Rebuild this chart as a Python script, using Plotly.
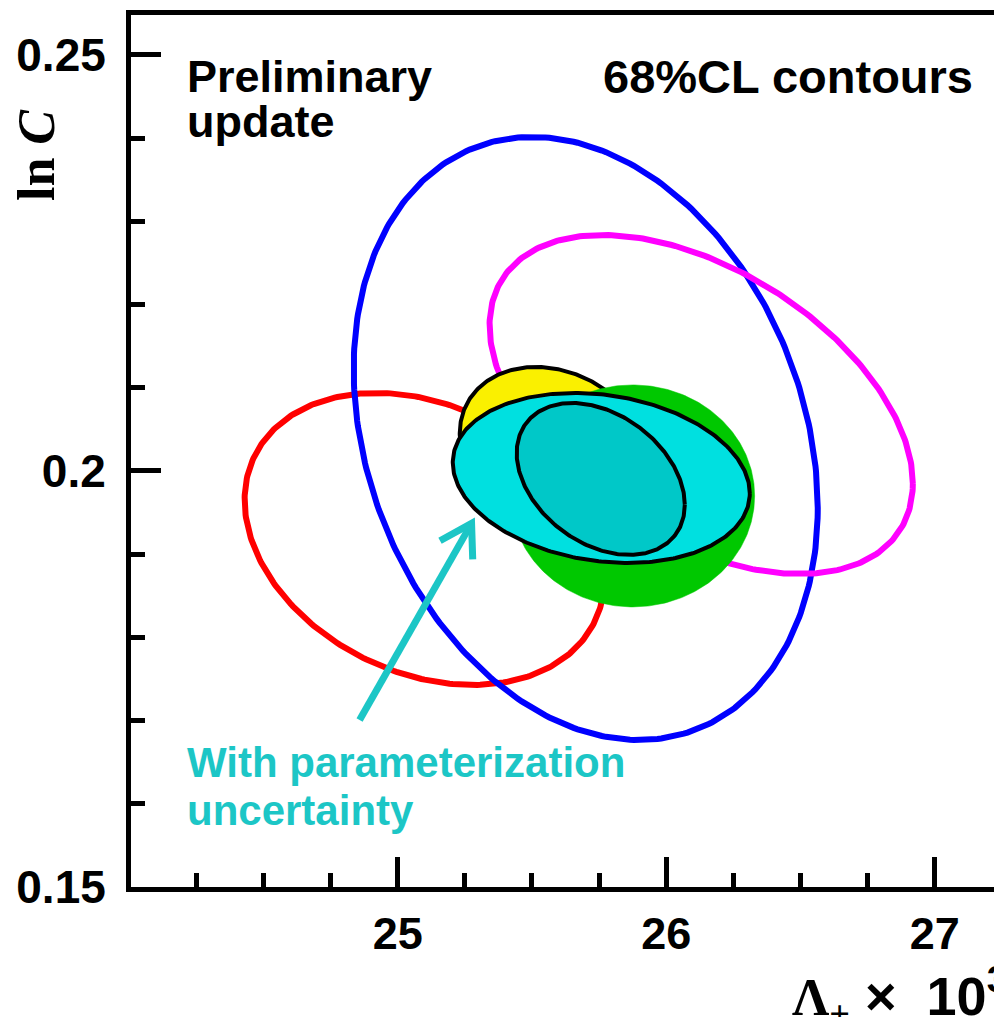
import numpy as np
import plotly.graph_objects as go

# ---- axis ranges / ticks ----
X_RANGE = [24.007, 27.25]
Y_RANGE = [0.15, 0.2548]
X_TICKS = [25, 26, 27]
Y_TICKS = [0.15, 0.2, 0.25]
Y_TICK_TEXT = ["0.15", "0.2", "0.25"]

# ---- 68% CL contour ellipses: centre, widths, correlation ----
names = ["red", "blue", "magenta", "yellow", "green", "cyan", "inner"]
center_x = [25.100, 25.700, 26.130, 25.585, 25.875, 25.758, 25.756]
center_y = [0.19183, 0.20391, 0.20799, 0.20252, 0.19700, 0.19916, 0.19904]
sigma_x = [0.670, 0.864, 0.788, 0.354, 0.454, 0.553, 0.313]
sigma_y = [0.01755, 0.03624, 0.02037, 0.00998, 0.01334, 0.01022, 0.00913]
rho = [-0.267, -0.23, -0.466, -0.20, 0.0, -0.18, -0.34]

# arrow (tail -> head) in data coordinates
arrow_tail = (24.858, 0.17007)
arrow_head = (25.275, 0.1937)

OFF = 8  # default page body margin
W, H = 1002 - OFF, 1017 - OFF
ML, MT, MB, MR = 123, 7, 130, 0
PW, PH = W - ML - MR, H - MT - MB
kx = PW / (X_RANGE[1] - X_RANGE[0])
ky = PH / (Y_RANGE[1] - Y_RANGE[0])

styles = {
    "red": dict(fill=None, line="#ff0000", lw=6),
    "blue": dict(fill=None, line="#0000ff", lw=6),
    "magenta": dict(fill=None, line="#ff00ff", lw=6),
    "yellow": dict(fill="#faf000", line="black", lw=4),
    "green": dict(fill="#00c800", line="#00c800", lw=0.5),
    "cyan": dict(fill="#00e0e0", line="black", lw=4),
    "inner": dict(fill="#00c8c8", line="black", lw=4),
}

t = np.linspace(0, 2 * np.pi, 361)
fig = go.Figure()
for n, cx, cy, sx, sy, r in zip(names, center_x, center_y, sigma_x, sigma_y, rho):
    xs = cx + sx * np.cos(t)
    ys = cy + sy * (r * np.cos(t) + np.sqrt(1 - r * r) * np.sin(t))
    st = styles[n]
    if st["fill"] is None:
        fig.add_trace(go.Scatter(x=xs, y=ys, mode="lines",
                                 line=dict(color=st["line"], width=st["lw"]),
                                 hoverinfo="skip", showlegend=False))
    else:
        fig.add_trace(go.Scatter(x=xs, y=ys, mode="lines", fill="toself",
                                 fillcolor=st["fill"],
                                 line=dict(color=st["line"], width=st["lw"]),
                                 hoverinfo="skip", showlegend=False))

# arrow as open V
ARROW_COLOR = "#1cc6c6"
hx, hy = arrow_head
tx, ty = arrow_tail
dxp = (tx - hx) * kx
dyp = (ty - hy) * ky
ang = np.arctan2(dyp, dxp)
wl = 36
wing = []
for s in (+0.55, -0.55):
    a = ang + s
    wing.append((hx + wl * np.cos(a) / kx, hy + wl * np.sin(a) / ky))
fig.add_trace(go.Scatter(x=[tx, hx], y=[ty, hy], mode="lines",
                         line=dict(color=ARROW_COLOR, width=7),
                         hoverinfo="skip", showlegend=False))
fig.add_trace(go.Scatter(x=[wing[0][0], hx, wing[1][0]],
                         y=[wing[0][1], hy, wing[1][1]], mode="lines",
                         line=dict(color=ARROW_COLOR, width=7),
                         hoverinfo="skip", showlegend=False))

SANS = "Liberation Sans, Arial, Helvetica, sans-serif"
SERIF = "Liberation Serif, Times New Roman, serif"


def px(x):
    return (x - OFF - ML) / PW


def py(y):
    return (MT + PH - (y - OFF)) / PH


def ann(text, x, y, xanchor="left", size=44, color="black", family=SANS, **kw):
    fig.add_annotation(text=text, x=px(x), y=py(y), xref="paper", yref="paper",
                       xanchor=xanchor, yanchor="middle", showarrow=False,
                       font=dict(family=family, size=size, color=color, weight="bold"), **kw)


ann("Preliminary", 185, 77, size=45)
ann("update", 185, 121, size=45)
ann("68%CL contours", 975, 77, xanchor="right", size=47)
ann("With parameterization", 185, 762, size=42, color=ARROW_COLOR)
ann("uncertainty", 185, 810, size=42, color=ARROW_COLOR)
ann("<b>ln <i>C</i></b>", 36, 155, xanchor="center", size=52, family=SERIF, textangle=-90)
ann("<span style='font-family:Liberation Serif'><b>Λ</b><sub>+</sub></span>"
    "<span style='font-size:54px'><b>&nbsp;×&nbsp;&nbsp;10<sup>3</sup></b></span>",
    790, 996, size=52)

axis_common = dict(showline=True, linewidth=5, linecolor="black", ticks="inside",
                   tickwidth=5, tickcolor="black", ticklen=30, showgrid=False,
                   zeroline=False)
fig.update_xaxes(range=X_RANGE, tickvals=X_TICKS, mirror=True, ticklabelstandoff=3,
                 tickfont=dict(family=SANS, size=45, color="black", weight="bold"),
                 minor=dict(tickvals=list(np.arange(24.25, 27.26, 0.25)), ticks="inside",
                            ticklen=14, tickwidth=5, tickcolor="black"),
                 **axis_common)
fig.update_yaxes(range=Y_RANGE, tickvals=Y_TICKS, ticktext=Y_TICK_TEXT, mirror=False,
                 ticklabelstandoff=11,
                 tickfont=dict(family=SANS, size=46, color="black", weight="bold"),
                 minor=dict(tickvals=list(np.arange(0.16, 0.255, 0.01)), ticks="inside",
                            ticklen=14, tickwidth=5, tickcolor="black"),
                 **axis_common)
fig.update_layout(width=W, height=H, margin=dict(l=ML, r=MR, t=MT, b=MB, pad=0),
                  plot_bgcolor="white", paper_bgcolor="white", showlegend=False)
fig.write_html("out.html")
